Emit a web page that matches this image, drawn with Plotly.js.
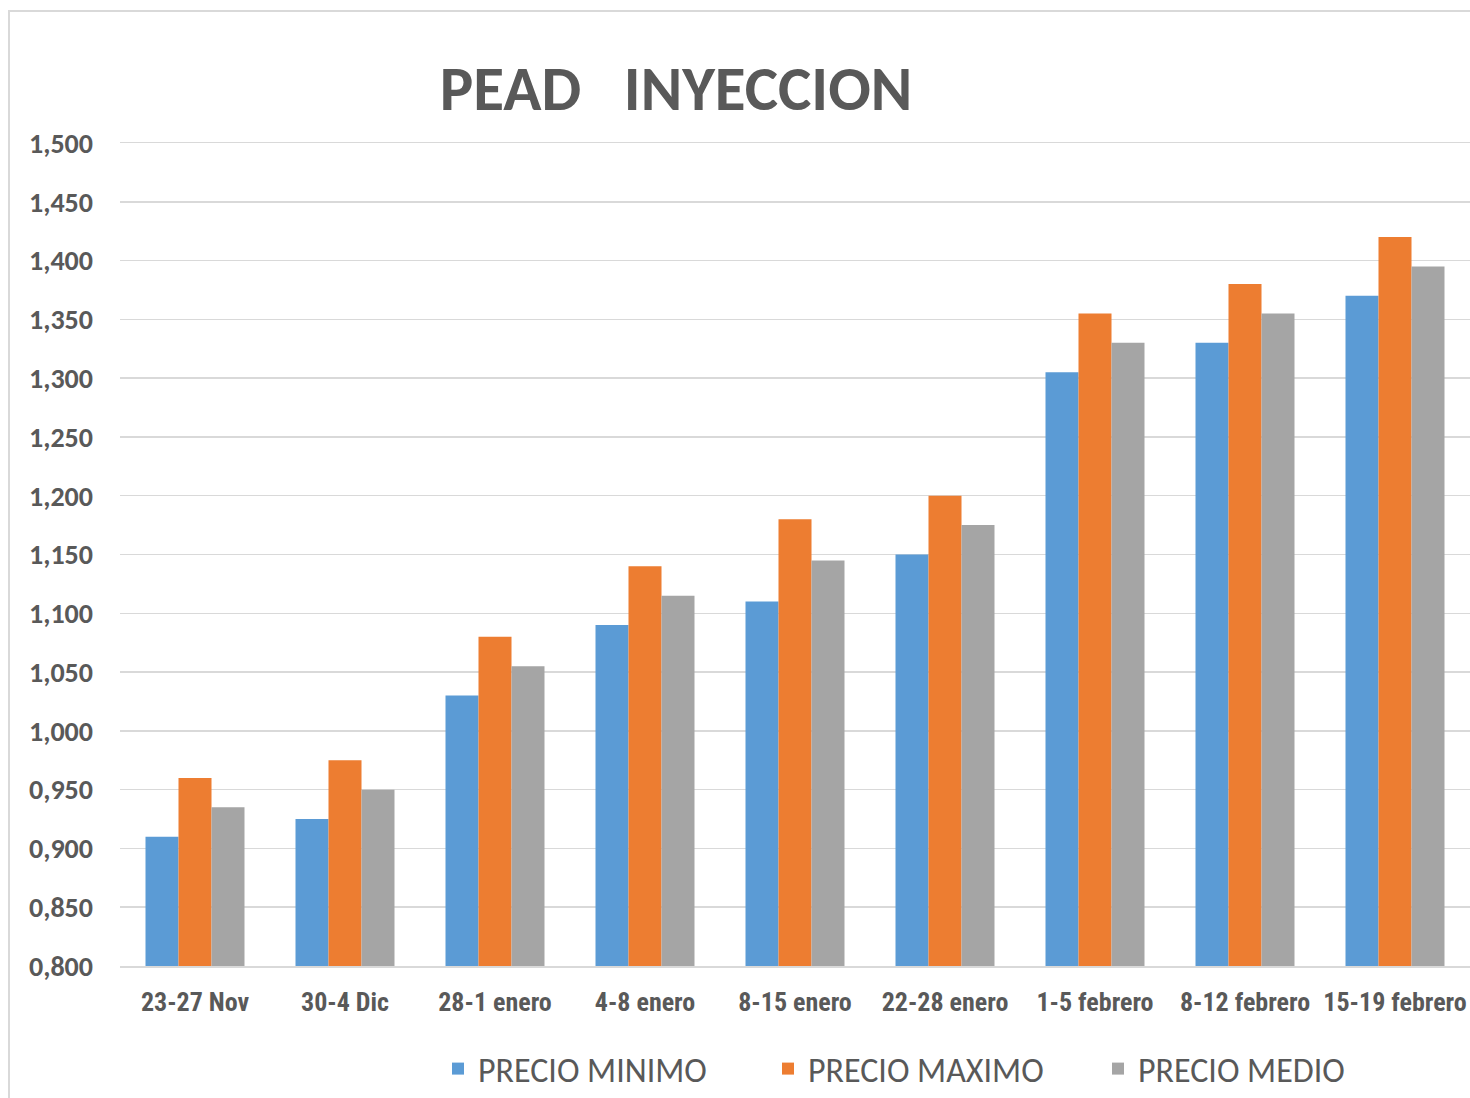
<!DOCTYPE html>
<html>
<head>
<meta charset="utf-8">
<script src="https://cdn.plot.ly/plotly-3.0.1.min.js"></script>
<style>
html,body{margin:0;padding:0;background:#fff;overflow:hidden;}
#chart{position:absolute;left:0;top:0;width:1470px;height:1098px;}
#frame{position:absolute;left:8px;top:10px;width:1600px;height:1200px;border:2px solid #d9d9d9;pointer-events:none;box-sizing:border-box;}
</style>
</head>
<body>
<div id="chart"></div>
<div id="frame"></div>
<script>
const categories = ["23-27 Nov","30-4 Dic","28-1 enero","4-8 enero","8-15 enero","22-28 enero","1-5 febrero","8-12 febrero","15-19 febrero"];
const precioMinimo = [0.910,0.925,1.030,1.090,1.110,1.150,1.305,1.330,1.370];
const precioMaximo = [0.960,0.975,1.080,1.140,1.180,1.200,1.355,1.380,1.420];
const precioMedio  = [0.935,0.950,1.055,1.115,1.145,1.175,1.330,1.355,1.395];
const seriesNames = ["PRECIO MINIMO","PRECIO MAXIMO","PRECIO MEDIO"];
const yTicks = [0.8,0.85,0.9,0.95,1.0,1.05,1.1,1.15,1.2,1.25,1.3,1.35,1.4,1.45,1.5];

const colors = ["#5b9bd5","#ed7d31","#a5a5a5"];
const data = [precioMinimo, precioMaximo, precioMedio].map((vals,i)=>({
  type:"bar", x:categories, y:vals, name:seriesNames[i],
  marker:{color:colors[i], line:{width:0}},
  base: 0
}));

const layout = {
  width:1470, height:1098,
  paper_bgcolor:"rgba(0,0,0,0)", plot_bgcolor:"rgba(0,0,0,0)",
  separators:",.",
  margin:{l:120, r:0, t:143, b:131, pad:0},
  title:{text:"PEAD\u00a0\u00a0\u00a0INYECCION", font:{family:"Carlito, Lato, 'Open Sans', sans-serif", size:63, color:"#595959", weight:700},
         x:676/1470, xanchor:"center", xref:"container", y:1-88/1098, yanchor:"middle", yref:"container"},
  barmode:"group", bargap:0.34, bargroupgap:0,
  xaxis:{type:"category", showgrid:false, zeroline:false, showline:true, mirror:true, linecolor:"#d9d9d9", linewidth:1.5,
         ticks:"", ticklabelstandoff:12, tickangle:0,
         tickfont:{family:"'Liberation Sans Narrow', 'Roboto Condensed', Roboto, sans-serif", size:26, color:"#595959", weight:700}},
  yaxis:{range:[0.8,1.5], tickvals:yTicks, tickformat:".3f", showgrid:true, gridcolor:"#d9d9d9", gridwidth:1.5,
         zeroline:false, showline:false, ticks:"", ticklabelstandoff:26,
         tickfont:{family:"Carlito, Lato, 'Open Sans', sans-serif", size:28, color:"#595959", weight:700}},
  showlegend:true,
  legend:{orientation:"h", x:(438-120)/1350, xanchor:"left", y:-(1070-967)/824, yanchor:"middle",
          font:{family:"Carlito, Lato, 'Open Sans', sans-serif", size:34, color:"#595959"},
          itemwidth:30, entrywidth:285, bgcolor:"rgba(0,0,0,0)", traceorder:"normal"}
};
Plotly.newPlot("chart", data, layout, {displayModeBar:false, staticPlot:true});
</script>
</body>
</html>
